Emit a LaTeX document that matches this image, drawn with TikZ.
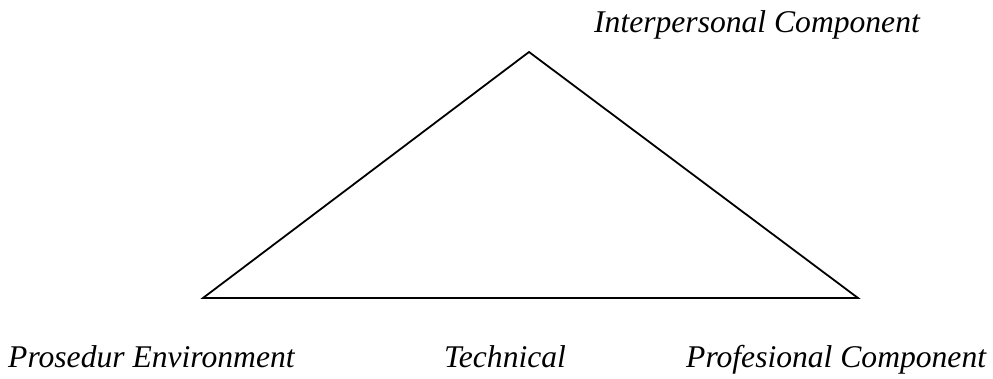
\documentclass[tikz,border=0pt]{standalone}
\usepackage{fontspec}
\setmainfont{Liberation Serif}
\begin{document}
\begin{tikzpicture}[x=1pt,y=1pt,
  lbl/.style={font=\fontsize{31.6}{36}\selectfont\itshape, inner sep=0pt, anchor=base west},
  edge/.style={draw=black, line width=1.8pt, line join=miter}]
\useasboundingbox (0,0) rectangle (993,378);
\coordinate (A) at (529,326);
\coordinate (B) at (203,80);
\coordinate (C) at (858,80);
\draw[edge] (A) -- (B) -- (C) -- cycle;
\node[lbl] (ti) at (594,345) {Interpersonal Component};
\node[lbl] (pe) at (8,11) {Prosedur Environment};
\node[lbl] (te) at (444,11) {Technical};
\node[lbl] (pc) at (686,11) {Profesional Component};
\end{tikzpicture}
\end{document}
